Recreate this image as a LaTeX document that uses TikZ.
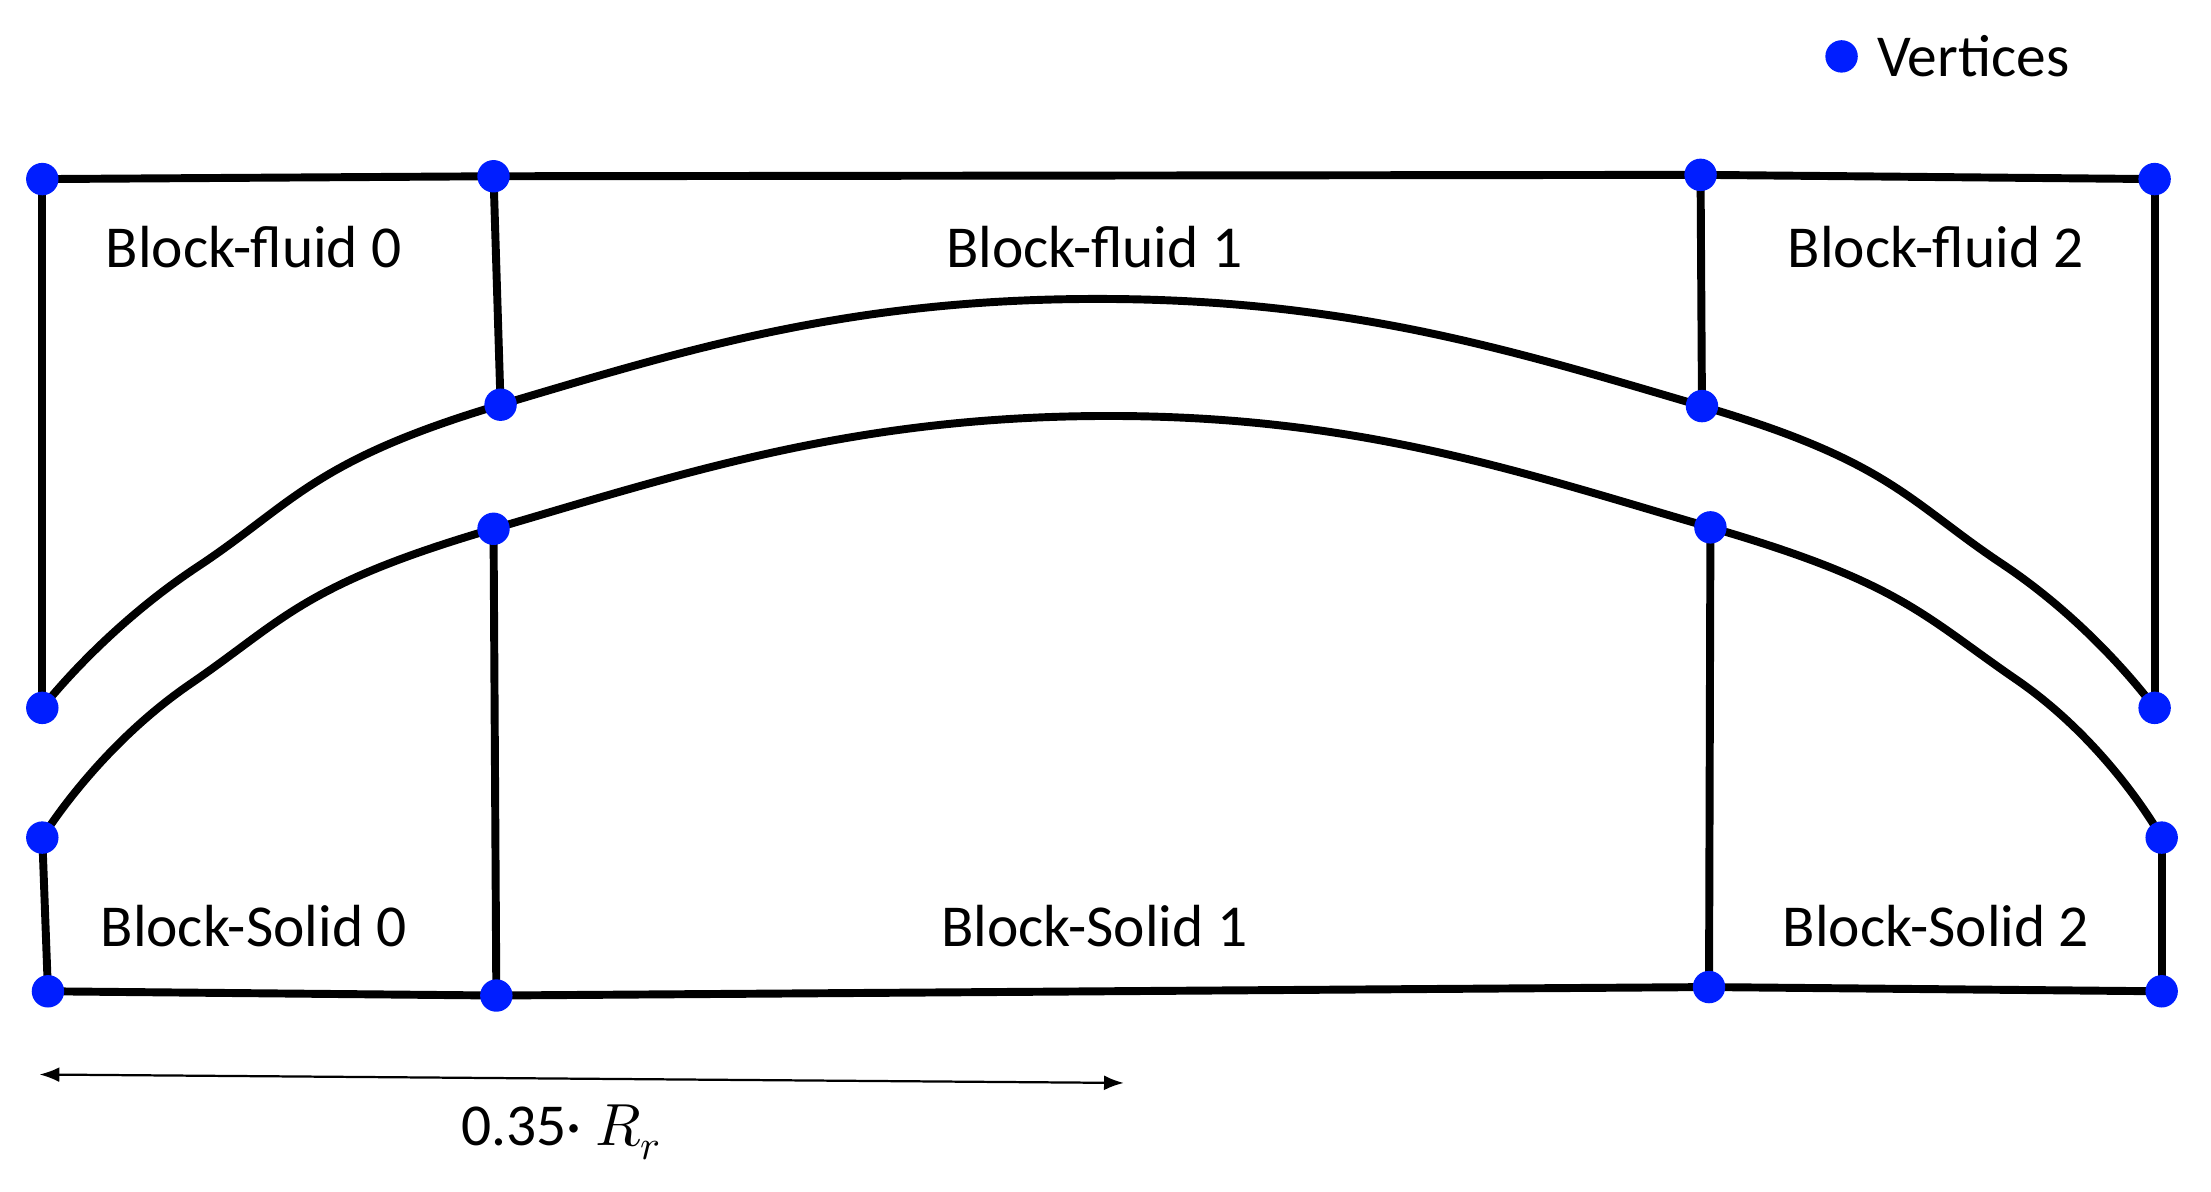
\documentclass[tikz,border=0pt]{standalone}
\usetikzlibrary{arrows.meta}
\usepackage{fontspec}
\setmainfont{Carlito}
\usepackage{unicode-math}
\begin{document}
\begin{tikzpicture}[x=0.02cm,y=-0.02cm,
  edge/.style={line width=3.2pt,black},
  vtx/.style={circle,fill={rgb,255:red,0;green,30;blue,255},inner sep=0pt,minimum size=0.46cm},
  lbl/.style={font=\fontsize{24}{28}\selectfont}]
\useasboundingbox (0,0) rectangle (1568,845);
\foreach \n/\x/\y in {t0/30/127,t1/350/125,t2/1206/124,t3/1528/127,
  u0/30/502,u1/355/287,u2/1207/288,u3/1528/502,
  l0/30/594,l1/350/375,l2/1213/374,l3/1533/594,
  b0/34/703,b1/352/706,b2/1212/700,b3/1533/703}
  \coordinate (\n) at (\x,\y);
\draw[edge] (t0)--(t1)--(t2)--(t3);
\draw[edge] (b0)--(b1)--(b2)--(b3);
\draw[edge] (t0)--(u0); \draw[edge] (t1)--(u1); \draw[edge] (t2)--(u2); \draw[edge] (t3)--(u3);
\draw[edge] (l0)--(b0); \draw[edge] (l1)--(b1); \draw[edge] (l2)--(b2); \draw[edge] (l3)--(b3);
\draw[edge] plot[smooth,tension=0.75] coordinates {(30,502) (140,402) (355,287) (780,212) (1207,288) (1420,400) (1528,502)};
\draw[edge] plot[smooth,tension=0.75] coordinates {(30,594) (135,485) (350,375) (785,295) (1213,374) (1430,482) (1533,594)};
\foreach \n in {t0,t1,t2,t3,u0,u1,u2,u3,l0,l1,l2,l3,b0,b1,b2,b3}
  \node[vtx] (v\n) at (\n) {};
\node[lbl] (f0) at (180,175) {Block-fluid 0};
\node[lbl] (f1) at (776,175) {Block-fluid 1};
\node[lbl] (f2) at (1373,175) {Block-fluid 2};
\node[lbl] (s0) at (180,657) {Block-Solid 0};
\node[lbl] (s1) at (776,657) {Block-Solid 1};
\node[lbl] (s2) at (1373,657) {Block-Solid 2};
\node[vtx] (leg) at (1306,40) {};
\node[lbl,anchor=west] (legt) at (1325,40) {Vertices};
\coordinate (d0) at (28,762); \coordinate (d1) at (797,768);
\draw[line width=0.9pt,{Latex[length=8pt]}-{Latex[length=8pt]}] (d0)--(d1);
\node[lbl] (dim) at (398,803) {0.35· $R_r$};
\end{tikzpicture}
\end{document}
